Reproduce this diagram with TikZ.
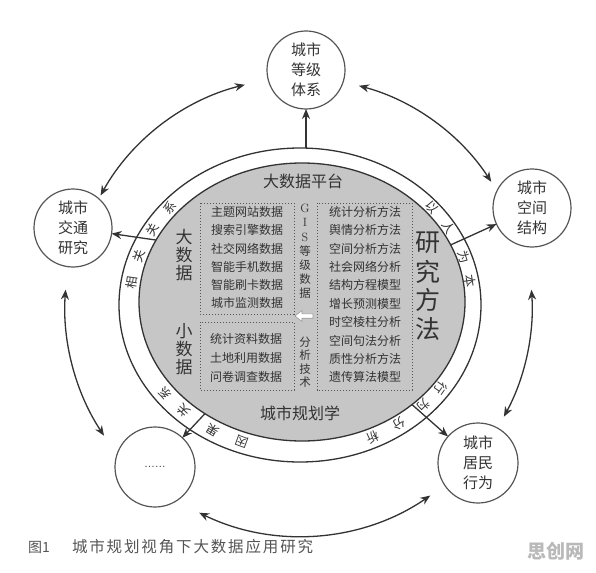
\documentclass[tikz,border=0pt]{standalone}
\usepackage{fontspec}
\newfontfamily\cjk{Noto Sans CJK SC}
\newfontfamily\capfont[LetterSpace=12]{Noto Sans CJK SC}
\usetikzlibrary{arrows.meta,calc,shapes.geometric}
\definecolor{ink}{HTML}{333333}
\definecolor{soft}{HTML}{555555}
\definecolor{platform}{HTML}{C6C6C6}
\newcommand\rlab[3]{\node[ringtxt,rotate={#2-90}] (#1) at ({301+171*cos(#2)},{303-148*sin(#2)}) {#3};}
\begin{document}
\begin{tikzpicture}[x=1pt,y=-1pt,
  every node/.style={inner sep=0pt,outer sep=0pt,text=ink},
  topic/.style={circle,draw=soft,line width=1.2pt,fill=white,minimum size=78pt,align=center,font=\cjk\fontsize{15}{20}\selectfont},
  arr/.style={draw=ink,line width=1.3pt,-{Stealth[length=10pt,width=8pt]}},
  darr/.style={draw=ink,line width=1.3pt,{Stealth[length=10pt,width=8pt]}-{Stealth[length=10pt,width=8pt]}},
  ringtxt/.style={font=\cjk\fontsize{12.5}{12.5}\selectfont},
  item/.style={font=\cjk\fontsize{12}{12}\selectfont},
  side/.style={font=\cjk\fontsize{17}{17}\selectfont},
  head/.style={font=\cjk\fontsize{16}{16}\selectfont},
  dotbox/.style={draw=soft,line width=1pt,dash pattern=on 1.3pt off 1.7pt},
]
\fill[white] (0,0) rectangle (596,572);
\useasboundingbox (0,0) rectangle (596,572);

% main ring and platform
\node[ellipse,draw=ink,line width=1.3pt,fill=white,minimum width=362pt,minimum height=314pt] (ring) at (300,305) {};
\node[ellipse,draw=ink,line width=1.3pt,fill=platform,minimum width=326pt,minimum height=278pt] (plat) at (302,302) {};

% topic circles
\node[topic] (dj) at (306,70) {城市\\等级\\体系};
\node[topic] (kj) at (532,208) {城市\\空间\\结构};
\node[topic] (jt) at (73,228) {城市\\交通\\研究};
\node[topic,minimum size=80pt] (etc) at (155,467) {\rmfamily\fontsize{13}{13}\selectfont ......};
\node[topic,minimum size=80pt] (jm) at (478,463) {城市\\居民\\行为};

% double arrows between topics
\coordinate (o) at (300,306);
\coordinate (a1) at ($(o)+(-151:228)$);
\coordinate (a2) at ($(o)+(-75:228)$);
\coordinate (a3) at ($(o)+(-4:232)$);
\coordinate (a4) at ($(o)+(55.5:230)$);
\coordinate (a5) at ($(o)+(-176:235)$);
\draw[darr] (a1) arc[start angle=-151,end angle=-104,radius=228];
\draw[darr] (a2) arc[start angle=-75,end angle=-33,radius=228];
\draw[darr] (a3) arc[start angle=-4,end angle=28.5,radius=232];
\draw[darr] (a4) arc[start angle=55.5,end angle=116,radius=230];
\draw[darr] (a5) arc[start angle=-176,end angle=-213.5,radius=235];

% dividers / arrows out of the ring
\draw[arr] (dj |- ring.north) -- (dj);
\draw[arr] (plat.157) -- (jt);
\draw[arr] (plat.21) -- (kj);
\draw[arr] (plat.-43) -- (jm);
\draw[arr] (plat.229) -- (etc);

% ring labels
\rlab{r1}{172}{相}
\rlab{r2}{161.5}{关}
\rlab{r3}{150.5}{关}
\rlab{r4}{140}{系}
\rlab{r5}{40}{以}
\rlab{r6}{30.5}{人}
\rlab{r7}{18}{为}
\rlab{r8}{8.5}{本}
\rlab{r9}{-35}{行}
\rlab{r10}{-44}{为}
\rlab{r11}{-55}{分}
\rlab{r12}{-65}{析}
\rlab{r13}{-110}{因}
\rlab{r14}{-121}{果}
\rlab{r15}{-133.5}{关}
\rlab{r16}{-142.5}{系}

% headings
\node[head] (pt) at (303,181) {大数据平台};
\node[head] (gh) at (300,413) {城市规划学};

% dotted boxes
\draw[dotbox] (200,203) rectangle (294,314);
\draw[dotbox] (200,322) rectangle (294,390);
\draw[dotbox] (317,203) rectangle (412,390);

% side labels
\foreach \t/\yy [count=\i] in {大/237,数/255,据/273} \node[side] (bd\i) at (184,\yy) {\t};
\foreach \t/\yy [count=\i] in {小/331,数/349,据/367} \node[side] (sd\i) at (184,\yy) {\t};
\foreach \t/\yy [count=\i] in {研/243,究/272,方/300,法/329} \node[font=\cjk\fontsize{25}{25}\selectfont] (ff\i) at (428,\yy) {\t};

% lists
\foreach \t [count=\i] in {主题网站数据,搜索引擎数据,社交网络数据,智能手机数据,智能刷卡数据,城市监测数据}
  \node[item] (bl\i) at (247,{212+18.2*(\i-1)}) {\t};
\foreach \t [count=\i] in {统计资料数据,土地利用数据,问卷调查数据}
  \node[item] (sl\i) at (246,{338.5+19*(\i-1)}) {\t};
\foreach \t [count=\i] in {统计分析方法,舆情分析方法,空间分析方法,社会网络分析,结构方程模型,增长预测模型,时空棱柱分析,空间句法分析,质性分析方法,遗传算法模型}
  \node[item] (ml\i) at (365,{212+18.35*(\i-1)}) {\t};

% middle column
\foreach \t/\yy [count=\i] in {G/208,I/222,S/237} \node[font=\rmfamily\fontsize{12}{12}\selectfont] (g\i) at (305,\yy) {\t};
\foreach \t/\yy [count=\i] in {等/251,级/265,数/279,据/293} \node[font=\cjk\fontsize{11.5}{11.5}\selectfont] (gd\i) at (305,\yy) {\t};
\foreach \t/\yy [count=\i] in {分/342,析/355.5,技/369,术/382.5} \node[font=\cjk\fontsize{11.5}{11.5}\selectfont] (at\i) at (305,\yy) {\t};

% white arrow
\draw[draw=gray!80,fill=white,line width=0.6pt] (313,313.8) -- (302,313.8) -- (302,310.5) -- (295,316) -- (302,321.5) -- (302,318.2) -- (313,318.2) -- cycle;

% caption and mark
\node[anchor=west,font=\cjk\fontsize{14}{14}\selectfont,text=soft] (fig) at (28,547) {图1};
\node[anchor=west,font=\capfont\fontsize{15.5}{15.5}\selectfont,text=soft] (cap) at (72,547) {城市规划视角下大数据应用研究};
\node[font=\cjk\bfseries\fontsize{19}{19}\selectfont,text=gray!55] (wm) at (556,551) {思创网};
\end{tikzpicture}
\end{document}
